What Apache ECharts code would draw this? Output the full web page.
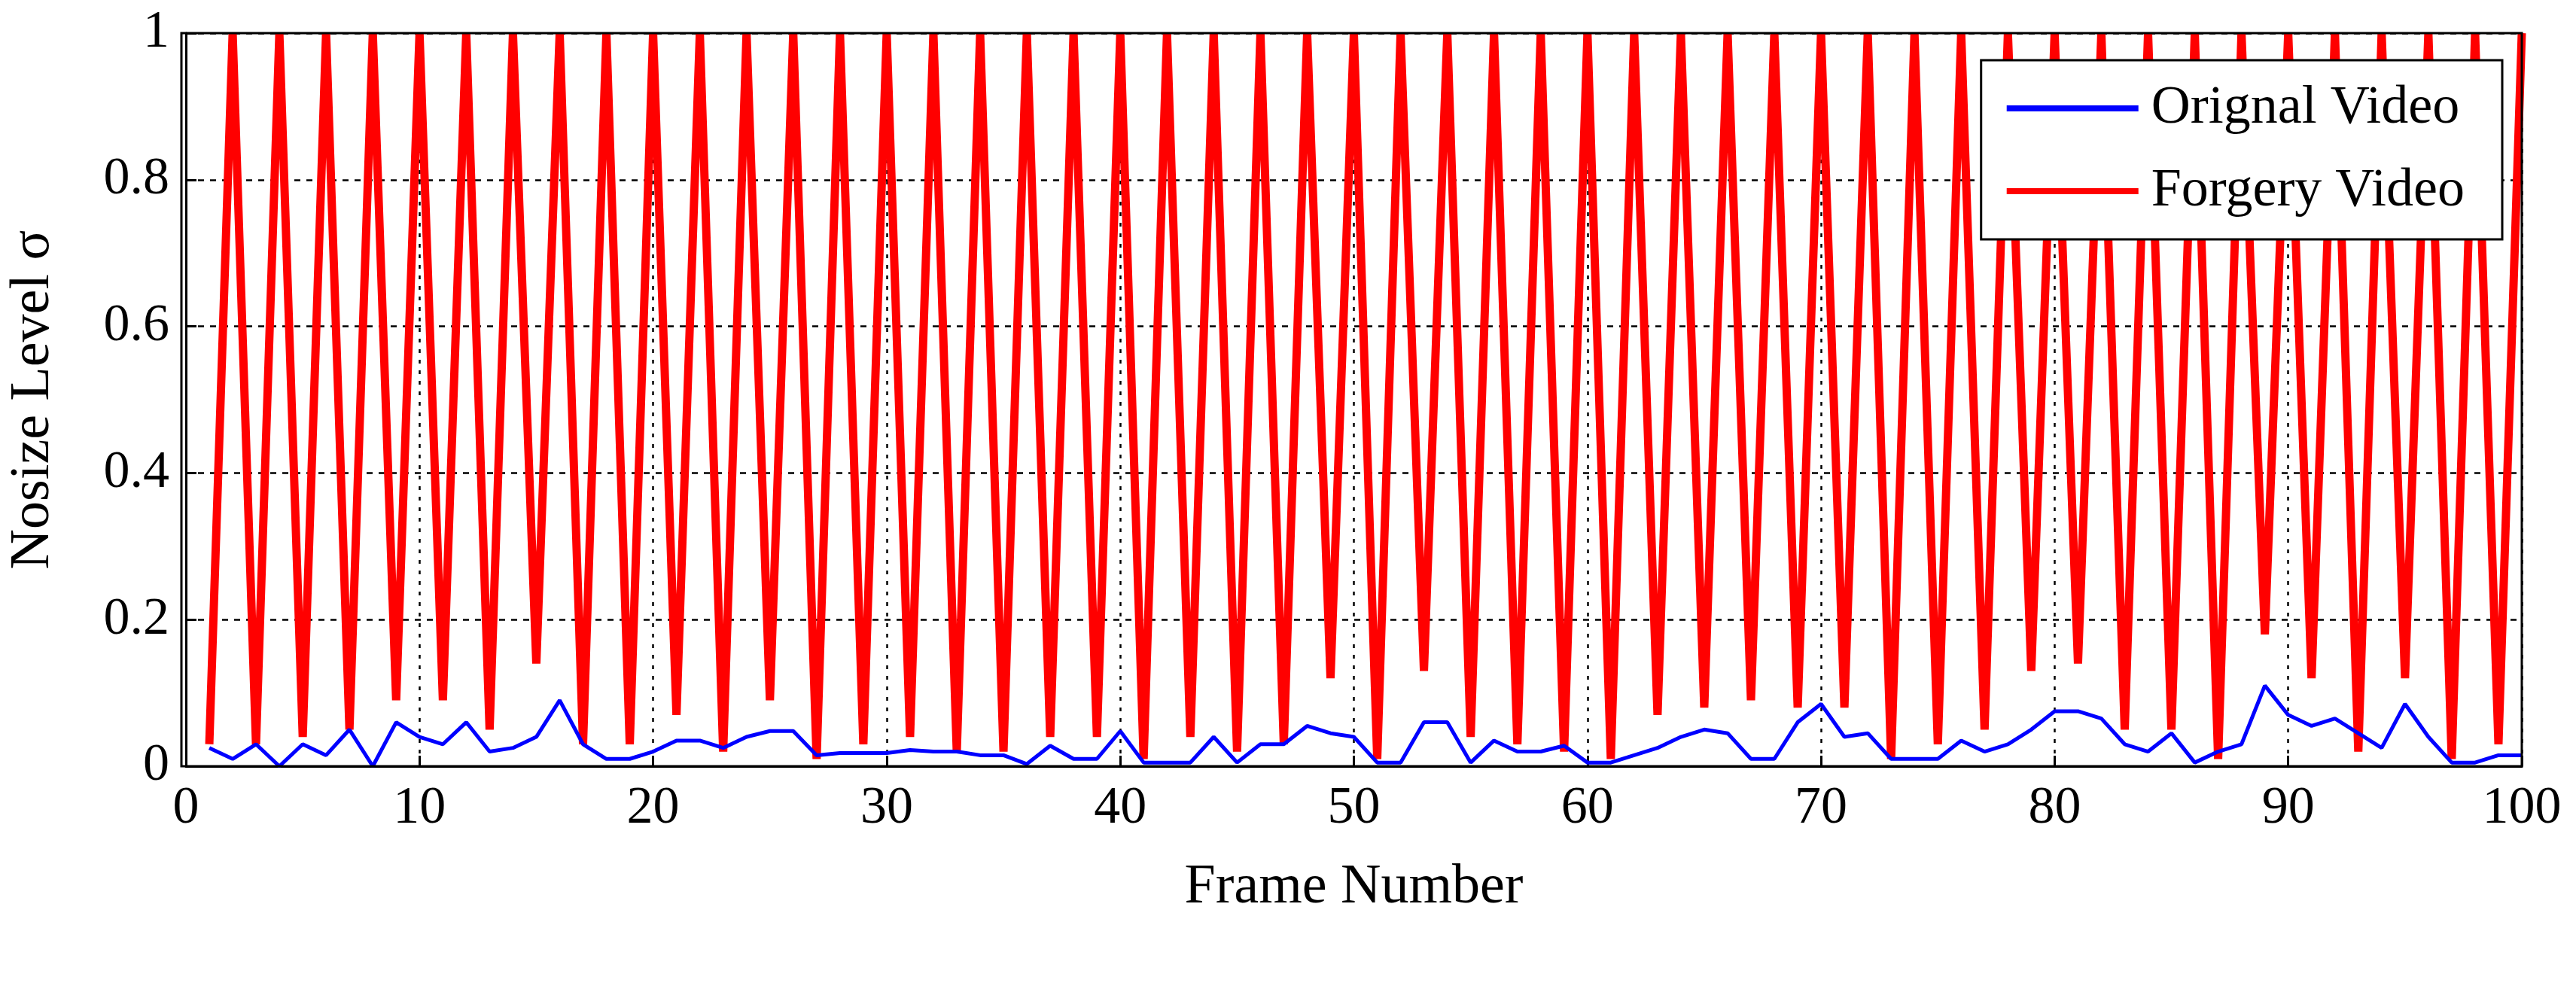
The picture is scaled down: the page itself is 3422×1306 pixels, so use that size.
<!DOCTYPE html>
<html><head><meta charset="utf-8">
<script src="https://cdn.jsdelivr.net/npm/echarts@6/dist/echarts.min.js"></script>
<style>html,body{margin:0;padding:0;background:#fff}#c{width:3422px;height:1306px}</style>
</head><body><div id="c"></div>
<script>
const frames = Array.from({length:100},(_,i)=>i+1);
const original = [0.025,0.01,0.03,0.0,0.03,0.015,0.05,0.0,0.06,0.04,0.03,0.06,0.02,0.025,0.04,0.09,0.03,0.01,0.01,0.02,
0.035,0.035,0.025,0.04,0.048,0.048,0.015,0.018,0.018,0.018,0.022,0.02,0.02,0.015,0.015,0.003,0.028,0.01,0.01,0.048,
0.005,0.005,0.005,0.04,0.005,0.03,0.03,0.055,0.045,0.04,0.005,0.005,0.06,0.06,0.005,0.035,0.02,0.02,0.028,0.005,
0.005,0.015,0.025,0.04,0.05,0.045,0.01,0.01,0.06,0.085,0.04,0.045,0.01,0.01,0.01,0.035,0.02,0.03,0.05,0.075,
0.075,0.065,0.03,0.02,0.045,0.005,0.02,0.03,0.11,0.07,0.055,0.065,0.045,0.025,0.085,0.04,0.005,0.005,0.015,0.015];
const forgeryTroughs = [0.03,0.03,0.04,0.05,0.09,0.09,0.05,0.14,0.03,0.03,0.07,0.02,0.09,0.01,0.03,0.04,0.02,0.02,0.04,0.04,
0.01,0.04,0.02,0.03,0.12,0.01,0.13,0.04,0.03,0.02,0.01,0.07,0.08,0.09,0.08,0.08,0.01,0.03,0.05,0.13,
0.14,0.05,0.05,0.01,0.18,0.12,0.02,0.12,0.01,0.03];
const forgeryPeak = 1;
const forgery = frames.map(f => f % 2 === 1 ? forgeryTroughs[(f-1)/2] : forgeryPeak);
const font='Liberation Serif';
const grid={left:241,right:72,top:44,bottom:288};
const chart=echarts.init(document.getElementById('c'));
const tick={inside:true,length:14,lineStyle:{width:3,color:'#000'}};
chart.setOption({
  animation:false,
  grid:grid,
  graphic:[{type:'rect',z:100,silent:true,shape:{x:241,y:44,width:3422-241-72,height:1306-44-288},
    style:{fill:null,stroke:'#000',lineWidth:3}}],
  legend:{right:98,top:80,orient:'vertical',itemWidth:175,itemHeight:8,itemGap:38,
    padding:[28,50,28,34],borderColor:'#000',borderWidth:3,backgroundColor:'#fff',
    textStyle:{fontFamily:font,fontSize:72,color:'#000',padding:[0,0,0,12]},
    data:[{name:'Orignal Video',icon:'rect'},{name:'Forgery Video',icon:'rect'}]},
  xAxis:[{type:'value',min:0,max:100,interval:10,name:'Frame Number',nameLocation:'middle',nameGap:125,
    nameTextStyle:{fontFamily:font,fontSize:74,color:'#000'},
    axisLine:{lineStyle:{color:'#000',width:3}},axisTick:tick,
    axisLabel:{fontFamily:font,fontSize:70,color:'#000',margin:22},splitLine:{show:true,lineStyle:{color:'#000',type:[5,9],width:2.5}}}],
  yAxis:[{type:'value',min:0,max:1,interval:0.2,name:'Nosize Level σ',nameLocation:'middle',nameGap:165,
    nameTextStyle:{fontFamily:font,fontSize:74,color:'#000'},
    axisLine:{lineStyle:{color:'#000',width:3}},axisTick:tick,
    axisLabel:{fontFamily:font,fontSize:70,color:'#000',margin:22,formatter:v=>String(v)},
    splitLine:{show:true,lineStyle:{color:'#000',type:[8,8],width:2.5}}}],
  series:[
    {name:'Forgery Video',type:'line',data:frames.map((f,i)=>[f,forgery[i]]),showSymbol:false,z:3,
      lineStyle:{color:'#ff0000',width:11},itemStyle:{color:'#ff0000'}},
    {name:'Orignal Video',type:'line',data:frames.map((f,i)=>[f,original[i]]),showSymbol:false,z:4,
      lineStyle:{color:'#0000ff',width:5},itemStyle:{color:'#0000ff'}}
  ]
});
</script></body></html>
